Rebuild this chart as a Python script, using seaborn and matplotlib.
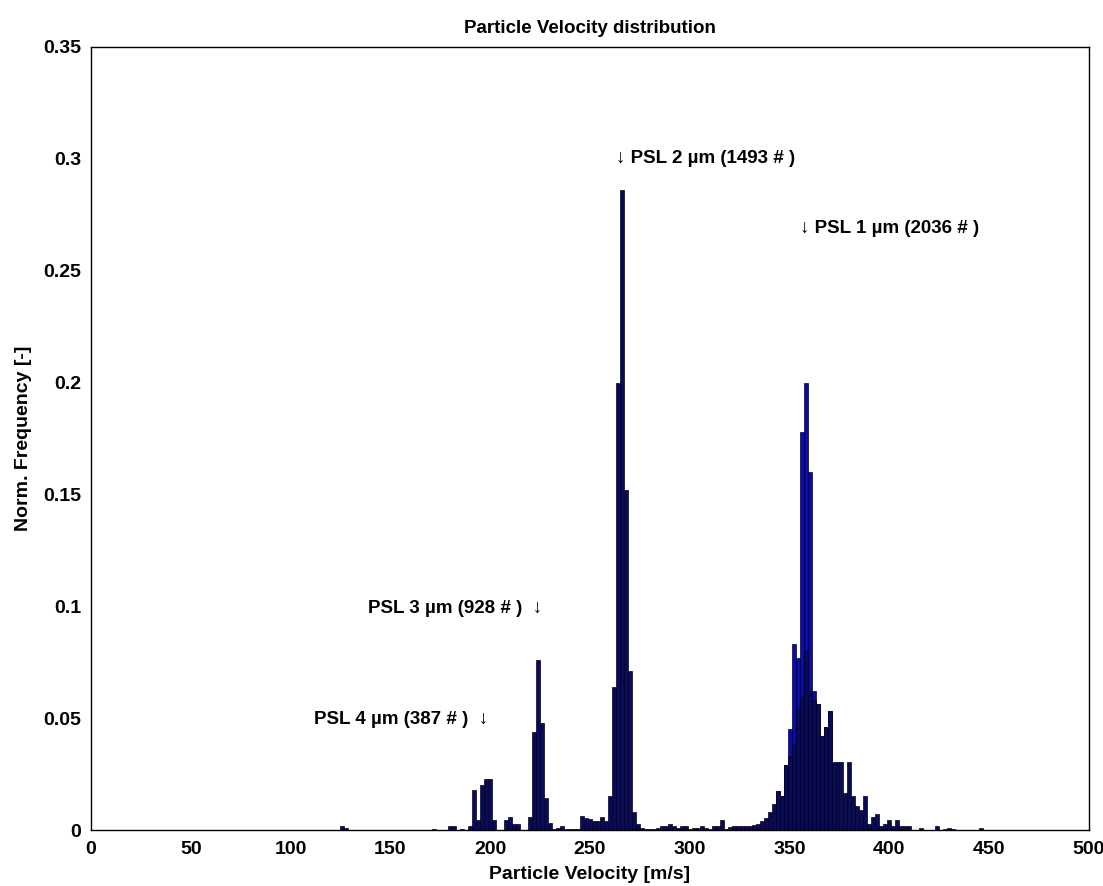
import numpy as np
import pandas as pd
import matplotlib
matplotlib.use("Agg")
import matplotlib.pyplot as plt
import seaborn as sns

# velocity bin centres [m/s] and normalised frequency
vel_all = [126, 128, 172, 180, 182, 186, 190, 192, 194, 196, 198, 200, 202,
           208, 210, 212, 214, 220, 222, 224, 226, 228, 230, 232, 234, 236,
           238, 240, 242, 244, 246, 248, 250, 252, 254, 256, 258, 260, 262,
           264, 266, 268, 270, 272, 274, 276, 278, 280, 282, 284, 286, 288,
           290, 292, 294, 296, 298, 300, 302, 304, 306, 308, 310, 312, 314,
           316, 318, 320, 322, 324, 326, 328, 330, 332, 334, 336, 338, 340,
           342, 344, 346, 348, 350, 352, 354, 356, 358, 360, 362, 364, 366,
           368, 370, 372, 374, 376, 378, 380, 382, 384, 386, 388, 390, 392,
           394, 396, 398, 400, 402, 404, 406, 408, 410, 416, 424, 428, 430,
           432, 446]
freq_all = [0.002, 0.0008, 0.0005, 0.002, 0.002, 0.0005, 0.002, 0.018, 0.0045,
            0.020, 0.0226, 0.0226, 0.0045,
            0.0045, 0.0057, 0.0025, 0.0025, 0.0057, 0.044, 0.076, 0.048, 0.0145,
            0.003, 0.0005, 0.001, 0.002,
            0.0005, 0.0006, 0.0006, 0.0006, 0.0064, 0.0052, 0.0048, 0.004, 0.004,
            0.006, 0.004, 0.015, 0.064,
            0.200, 0.286, 0.152, 0.071, 0.008, 0.0025, 0.0007, 0.0003, 0.0003,
            0.0003, 0.001, 0.002, 0.002,
            0.0025, 0.0016, 0.0007, 0.002, 0.0016, 0.0003, 0.0007, 0.0007, 0.002,
            0.0007, 0.0003, 0.002, 0.002,
            0.0045, 0.0003, 0.0015, 0.002, 0.002, 0.0016, 0.002, 0.002, 0.0022,
            0.0025, 0.004, 0.0055, 0.008,
            0.0115, 0.0175, 0.015, 0.029, 0.033, 0.038, 0.054, 0.060, 0.080,
            0.062, 0.058, 0.0565, 0.042,
            0.046, 0.053, 0.0305, 0.0305, 0.0305, 0.0167, 0.0305, 0.015, 0.0107,
            0.009, 0.015, 0.0027, 0.0057,
            0.007, 0.0018, 0.0027, 0.0045, 0.002, 0.0045, 0.002, 0.0018, 0.0018,
            0.0007, 0.002, 0.0004, 0.0008,
            0.0004, 0.0008]

# brighter blue tops of the PSL 1 um peak
vel_psl1 = [344, 346, 348, 350, 352, 354, 356, 358, 360, 362, 364, 366, 368, 370]
freq_psl1 = [0.0175, 0.015, 0.029, 0.045, 0.083, 0.077, 0.178, 0.200, 0.160,
             0.062, 0.0565, 0.042, 0.046, 0.053]

labels = ["\u2193 PSL 2 \u00b5m (1493 # )", "\u2193 PSL 1 \u00b5m (2036 # )",
          "PSL 3 \u00b5m (928 # )  \u2193", "PSL 4 \u00b5m (387 # )  \u2193"]
label_x = [263, 355, 226, 199]
label_y = [0.300, 0.269, 0.099, 0.0496]
label_ha = ["left", "left", "right", "right"]

sns.set_theme(style="white")
plt.rcParams['font.family'] = ['Liberation Sans', 'DejaVu Sans']
plt.rcParams['font.weight'] = 'bold'
plt.rcParams['text.color'] = 'black'
plt.rcParams['axes.labelcolor'] = 'black'

fig = plt.figure(figsize=(11.03, 8.86), dpi=100)
ax = fig.add_axes([0.0825, 0.0632, 0.9048, 0.8838])

df_all = pd.DataFrame({"vel": vel_all, "freq": freq_all})
df_p1 = pd.DataFrame({"vel": vel_psl1, "freq": freq_psl1})

sns.histplot(data=df_p1, x="vel", weights="freq", binwidth=2, binrange=(343, 371),
             ax=ax, color="#0c0ca0", edgecolor="#000030", linewidth=0.5, alpha=1)
sns.histplot(data=df_all, x="vel", weights="freq", binwidth=2, binrange=(125, 447),
             ax=ax, color="#0b0b55", edgecolor="#000020", linewidth=0.5, alpha=1)

ax.set_xlim(0, 500)
ax.set_ylim(0, 0.35)
ax.set_xticks(np.arange(0, 501, 50))
ax.set_yticks([0, 0.05, 0.1, 0.15, 0.2, 0.25, 0.3, 0.35])
ax.set_yticklabels(["0", "0.05", "0.1", "0.15", "0.2", "0.25", "0.3", "0.35"])
ax.tick_params(axis="x", direction="in", length=9, width=0.8, colors="black",
               labelsize=14, pad=8)
ax.tick_params(axis="y", direction="out", length=4, width=0.8, colors="black",
               labelsize=14, pad=3)
for s in ax.spines.values():
    s.set_color("black")
    s.set_linewidth(1.0)

ax.set_title("Particle Velocity distribution", fontsize=13.5, fontweight="bold", pad=10)
ax.set_xlabel("Particle Velocity [m/s]", fontsize=14, fontweight="bold", labelpad=6)
ax.set_ylabel("Norm. Frequency [-]", fontsize=14, fontweight="bold", labelpad=8)

for t, x, y, ha in zip(labels, label_x, label_y, label_ha):
    ax.text(x, y, t, ha=ha, va="center", fontsize=13.5, fontweight="bold")

fig.savefig("out.png", dpi=100)
